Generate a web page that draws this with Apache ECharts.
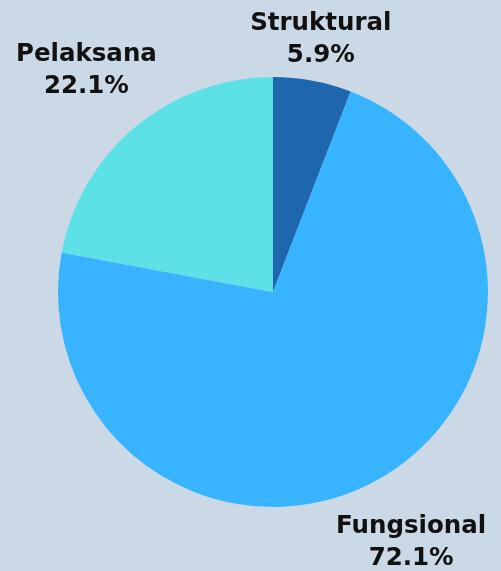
<!DOCTYPE html>
<html>
<head>
<meta charset="utf-8">
<script src="https://cdn.jsdelivr.net/npm/echarts@6/dist/echarts.min.js"></script>
<style>
  html, body { margin: 0; padding: 0; background: #cbd9e6; }
  #main { width: 501px; height: 571px; }
</style>
</head>
<body>
<div id="main"></div>
<script>
// jumlah pegawai per jenis jabatan
const categories = ['Struktural', 'Fungsional', 'Pelaksana'];
const counts = [4, 49, 15];
const colors = ['#1e67ae', '#38b4fe', '#5ce1e6'];

const cx = 273, cy = 292, radius = 215, gap = 10;
const baselineFix = 3; // DejaVu duduk sedikit lebih tinggi dari font aslinya

const total = counts.reduce((a, b) => a + b, 0);
// sudut tengah tiap irisan, searah jarum jam dari arah jam 12
const midAngles = [];
let acc = 0;
counts.forEach((v) => {
    midAngles.push(((acc + v / 2) / total) * Math.PI * 2);
    acc += v;
});

const chart = echarts.init(document.getElementById('main'));
chart.setOption({
    backgroundColor: '#cbd9e6',
    animation: false,
    series: [
        {
            type: 'pie',
            center: [cx, cy],
            radius: [0, radius],
            startAngle: 90,
            clockwise: true,
            itemStyle: { borderWidth: 0 },
            label: {
                show: true,
                position: 'outside',
                overflow: 'none',
                formatter: (p) => p.name + '\n' + (p.value / total * 100).toFixed(1) + '%',
                fontFamily: 'DejaVu Sans',
                fontWeight: 'bold',
                fontSize: 24.5,
                lineHeight: 32,
                color: '#111'
            },
            labelLine: { show: false },
            emphasis: { disabled: true },
            data: categories.map((name, i) => ({
                name: name,
                value: counts[i],
                itemStyle: { color: colors[i] }
            })),
            // taruh label di luar lingkaran, sudut terdekat kotak label menyentuh radius + gap
            labelLayout: function (params) {
                const a = midAngles[params.dataIndex];
                const ux = Math.sin(a), uy = -Math.cos(a);
                const w = params.labelRect.width, h = params.labelRect.height;
                const ox = -Math.sign(ux) * w / 2, oy = -Math.sign(uy) * h / 2;
                const uo = ux * ox + uy * oy;
                const R = radius + gap;
                const d = -uo + Math.sqrt(uo * uo - (ox * ox + oy * oy) + R * R);
                return {
                    x: cx + d * ux,
                    y: cy + d * uy + baselineFix,
                    align: 'center',
                    verticalAlign: 'middle'
                };
            }
        }
    ]
});
</script>
</body>
</html>
